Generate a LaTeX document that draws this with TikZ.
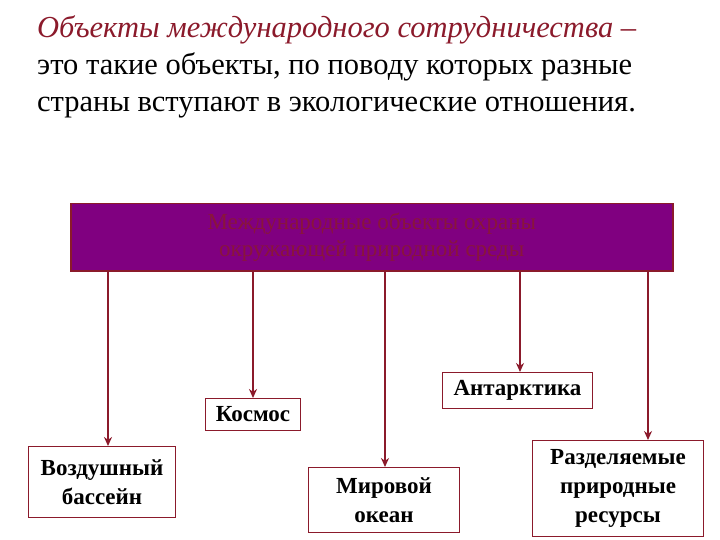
\documentclass[tikz,border=0pt]{standalone}
\usepackage{fontspec}
\usetikzlibrary{arrows.meta}
\setmainfont{Liberation Serif}
\definecolor{mar}{HTML}{8B1A2B}
\definecolor{purp}{HTML}{800080}
\begin{document}
\begin{tikzpicture}[x=1pt,y=-1pt,
 box/.style={draw=mar,line width=1pt,fill=white,font=\bfseries\fontsize{23}{29}\selectfont,align=center,inner sep=0pt},
 con/.style={draw=mar,line width=1.6pt,-{Stealth[length=9pt,width=8pt]}}]
\useasboundingbox (0,0) rectangle (720,540);
\node[anchor=north west,align=left,font=\fontsize{30.5}{37}\selectfont,inner sep=0pt] (title) at (37,15)
 {\textcolor{mar}{\itshape Объекты международного сотрудничества –}\\это такие объекты, по поводу которых разные\\страны вступают в экологические отношения.};
\node[draw=mar,line width=1.5pt,fill=purp,minimum width=602pt,minimum height=67pt,anchor=north west,align=center,text=mar!80!purp,font=\fontsize{23}{27}\selectfont,inner sep=0pt] (top) at (70,203) {Международные объекты охраны\\окружающей природной среды};
\node[box,minimum width=95pt,minimum height=32pt,anchor=north west] (kos) at (205,398) {Космос};
\node[box,minimum width=150pt,minimum height=36pt,anchor=north west] (ant) at (442,372) {Антарктика};
\node[box,minimum width=147pt,minimum height=71pt,anchor=north west] (air) at (28,446) {Воздушный\\бассейн};
\node[box,minimum width=151pt,minimum height=65pt,anchor=north west] (oce) at (308,467) {Мировой\\океан};
\node[box,minimum width=171pt,minimum height=96pt,anchor=north west] (res) at (532,440) {Разделяемые\\природные\\ресурсы};
\draw[con] (top.south -| 108,0) -- (air.north -| 108,0);
\draw[con] (top.south -| kos.north) -- (kos.north);
\draw[con] (top.south -| 385,0) -- (oce.north -| 385,0);
\draw[con] (top.south -| 520,0) -- (ant.north -| 520,0);
\draw[con] (top.south -| 648,0) -- (res.north -| 648,0);
\end{tikzpicture}
\end{document}
